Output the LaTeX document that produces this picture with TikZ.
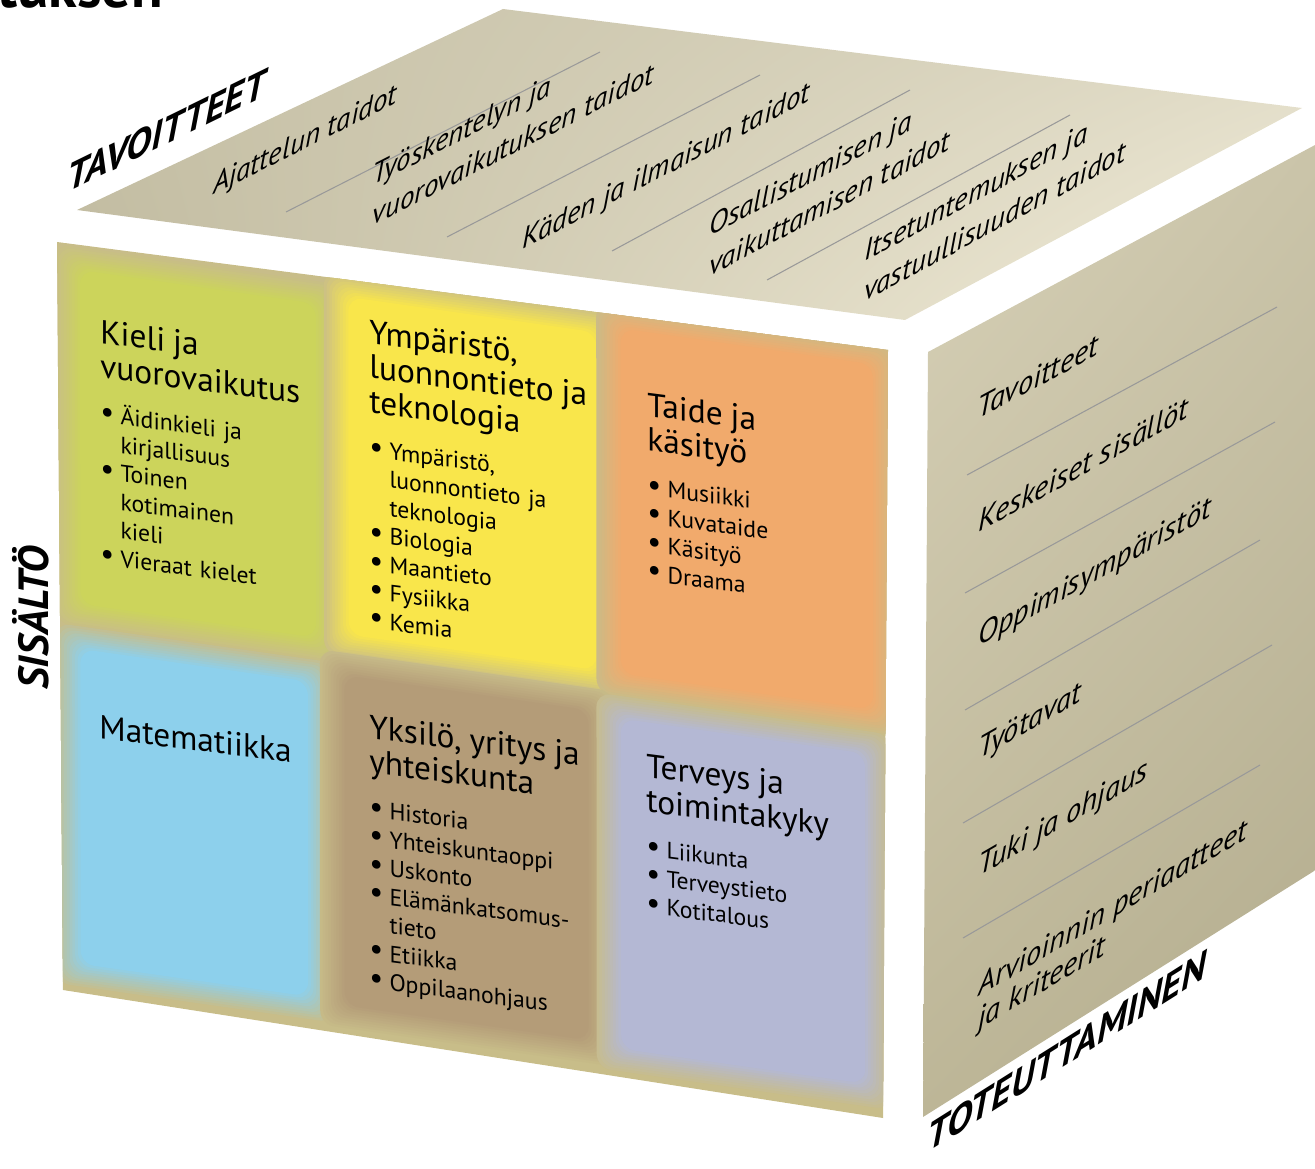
\documentclass[tikz,border=0pt]{standalone}
\usepackage{fontspec}
\usepackage{graphicx}
\setmainfont{PT Sans}
\usetikzlibrary{shadings}
\definecolor{facebg}{HTML}{C8BD89}
\definecolor{kieli}{HTML}{CCD45B}
\definecolor{ympa}{HTML}{F9E64B}
\definecolor{taide}{HTML}{F1AA6C}
\definecolor{mate}{HTML}{8DD0EC}
\definecolor{yksi}{HTML}{B49C78}
\definecolor{terv}{HTML}{B4B8D4}
\definecolor{topA}{HTML}{C6C0A6}
\definecolor{topB}{HTML}{DDD8C3}
\definecolor{topC}{HTML}{C1BBA0}
\definecolor{topD}{HTML}{F4EFDC}
\definecolor{sideA}{HTML}{D7D1B8}
\definecolor{sideB}{HTML}{CAC4A9}
\definecolor{sideC}{HTML}{BDB697}
\definecolor{sideD}{HTML}{B2AB8C}
\newcommand\bl{\makebox[0.85em][l]{\raisebox{0.03em}{\scalebox{1.3}{\textbullet}}}}
\newcommand\ind{\hspace*{0.85em}}
\newcommand\hd[1]{{\fontsize{19}{19.8}\selectfont #1\par}\vspace{9pt}}
\newcommand\cellfill[5]{%
  \foreach \i in {0,...,9}{
    \pgfmathsetmacro\d{0.03-0.0033*\i}
    \pgfmathtruncatemacro\p{10+10*\i}
    \fill[#1!\p!facebg, rounded corners=8pt]
      (#2-\d,#3-\d) -- (#4+\d,#3-\d) -- (#4+\d,#5+\d) -- (#2-\d,#5+\d) -- cycle;
  }}
\begin{document}
\begin{tikzpicture}[x=0.02cm,y=-0.02cm]
\tikzset{
  cellbox/.style={anchor=north west, inner sep=0pt, text width=6cm, align=left,
    yslant=-0.13, font=\fontsize{13.5}{16.2}\selectfont},
  topitem/.style={anchor=base west, inner sep=0pt, align=left,
    font=\itshape\fontsize{16.5}{22.7}\selectfont},
  sideitem/.style={anchor=base west, inner sep=0pt, align=left,
    font=\itshape\fontsize{17.3}{18.7}\selectfont},
  axislabel/.style={anchor=base west, inner sep=0pt,
    font=\bfseries\itshape\fontsize{22}{22}\selectfont},
  sepline/.style={draw=black!40, line width=0.6pt}
}
\useasboundingbox (0,0) rectangle (1315,1169);
\clip (0,0) rectangle (1315,1169);

\node[anchor=base west, inner sep=0pt, font=\bfseries\fontsize{33}{33}\selectfont] (otsikko) at (-3,8) {tuksen};

% top face
\shade[upper left=topA, upper right=topB, lower left=topC, lower right=topD]
  (77,210) -- (503,9) -- (1302,108) -- (905,320) -- cycle;
\foreach \xa/\ya/\xb/\yb in {286/212/600/52, 447/237/760/75, 612/251/910/90, 767/280/1070/115}
  \draw[sepline] (\xa,\ya) -- (\xb,\yb);
\node[axislabel, yslant=0.49] (tavo) at (67,193) {TAVOITTEET};
\node[topitem, yslant=0.5] (ajat) at (213,195) {Ajattelun taidot};
\node[topitem, yslant=0.51] (tyos) at (372,226) {Työskentelyn ja\\vuorovaikutuksen taidot};
\node[topitem, yslant=0.52] (kade) at (522,250) {Käden ja ilmaisun taidot};
\node[topitem, yslant=0.53] (osal) at (709,277) {Osallistumisen ja\\vaikuttamisen taidot};
\node[topitem, yslant=0.54] (itse) at (864,302) {Itsetuntemuksen ja\\vastuullisuuden taidot};

% right face
\shade[upper left=sideA, upper right=sideB, lower left=sideC, lower right=sideD]
  (928,352) -- (1330,137) -- (1330,861) -- (923,1117) -- cycle;
\foreach \xa/\ya/\xb/\yb in {967/475/1277/307, 965/593/1275/422, 965/710/1260/540, 963/823/1272/645, 963/938/1260/765}
  \draw[sepline] (\xa,\ya) -- (\xb,\yb);
\node[sideitem, yslant=0.54] (tavoitteet) at (977,420) {Tavoitteet};
\node[sideitem, yslant=0.55] (sisallot) at (978,533) {Keskeiset sisällöt};
\node[sideitem, yslant=0.56] (ympar) at (978,647) {Oppimisympäristöt};
\node[sideitem, yslant=0.57] (tyotavat) at (978,760) {Työtavat};
\node[sideitem, yslant=0.58] (tuki) at (978,877) {Tuki ja ohjaus};
\node[sideitem, yslant=0.59] (arvi) at (978,1030) {Arvioinnin periaatteet\\ja kriteerit};
\node[axislabel, yslant=0.63] (tote) at (927,1153) {TOTEUTTAMINEN};

% front face
\begin{scope}
  \clip (57,242) -- (888,350) -- (883,1118) -- (63,990) -- cycle;
  \fill[facebg] (57,242) -- (888,350) -- (883,1118) -- (63,990) -- cycle;
  \begin{scope}[shift={(59.75,237)}, x={(16.51cm,-2.36cm)}, y={(0.01cm,-15.16cm)}]
    \cellfill{kieli}{0.025}{0.04}{0.31}{0.48}
    \cellfill{ympa}{0.35}{0.025}{0.65}{0.47}
    \cellfill{taide}{0.68}{0.015}{0.985}{0.47}
    \cellfill{mate}{0.025}{0.54}{0.30}{0.955}
    \cellfill{yksi}{0.345}{0.525}{0.64}{0.96}
    \cellfill{terv}{0.68}{0.53}{0.975}{0.965}
  \end{scope}
\end{scope}
\node[axislabel, rotate=90, font=\bfseries\itshape\fontsize{24}{24}\selectfont] (sisa) at (49,690) {SISÄLTÖ};

\node[cellbox] (kieli-t) at (100,319) {\hd{Kieli ja\\vuorovaikutus}
  \bl Äidinkieli ja\\\ind kirjallisuus\\\bl Toinen\\\ind kotimainen\\\ind kieli\\\bl Vieraat kielet\par};
\node[cellbox] (ympa-t) at (369,319) {\hd{Ympäristö,\\luonnontieto ja\\teknologia}
  \bl Ympäristö,\\\ind luonnontieto ja\\\ind teknologia\\\bl Biologia\\\bl Maantieto\\\bl Fysiikka\\\bl Kemia\par};
\node[cellbox] (taide-t) at (647,392) {\hd{Taide ja\\käsityö}
  \bl Musiikki\\\bl Kuvataide\\\bl Käsityö\\\bl Draama\par};
\node[cellbox] (mate-t) at (99,714) {\hd{Matematiikka}};
\node[cellbox] (yksi-t) at (369,714) {\hd{Yksilö, yritys ja\\yhteiskunta}
  \bl Historia\\\bl Yhteiskuntaoppi\\\bl Uskonto\\\bl Elämänkatsomus-\\\ind tieto\\\bl Etiikka\\\bl Oppilaanohjaus\par};
\node[cellbox] (terv-t) at (646,753) {\hd{Terveys ja\\toimintakyky}
  \bl Liikunta\\\bl Terveystieto\\\bl Kotitalous\par};
\end{tikzpicture}
\end{document}
